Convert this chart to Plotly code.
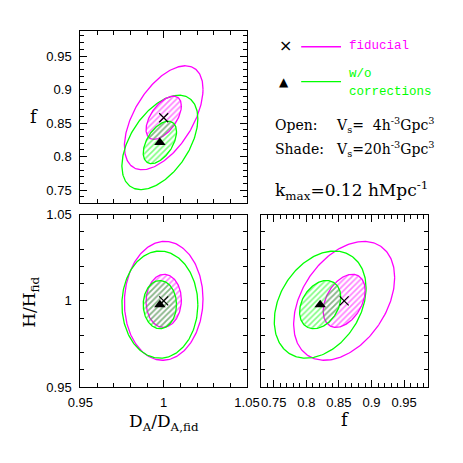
import numpy as np
import plotly.graph_objects as go

# Parameters: D_A/D_A,fid, H/H_fid, f
PARAMS = ["DA", "H", "f"]

# Centres of the two models
CENTER_FID = [1.000, 1.000, 0.858]
CENTER_NOCORR = [0.9977, 0.9978, 0.8212]

# Half-widths of the plotted contours along each parameter
EXTENT_FID_OPEN = [0.0236, 0.0345, 0.0775]
EXTENT_FID_SHADE = [0.0106, 0.0154, 0.0322]
EXTENT_NOCORR_OPEN = [0.0228, 0.0311, 0.0704]
EXTENT_NOCORR_SHADE = [0.0100, 0.0140, 0.0316]

# Correlation coefficients for each parameter pair
CORR_PAIRS = [("DA", "f"), ("DA", "H"), ("f", "H")]
CORR_FID = [0.55, 0.03, 0.39]
CORR_NOCORR = [0.50, 0.00, 0.31]

MAGENTA = "#FF00FF"
GREEN = "#00FF00"
W = H = 463


def corr_of(corrs, a, b):
    for (p, q), r in zip(CORR_PAIRS, corrs):
        if {p, q} == {a, b}:
            return r
    return 0.0


def ellipse(center, extent, corrs, i, j, n=240):
    r = corr_of(corrs, PARAMS[i], PARAMS[j])
    t = np.linspace(0, 2 * np.pi, n)
    x = center[i] + extent[i] * np.cos(t)
    y = center[j] + extent[j] * (r * np.cos(t) + np.sqrt(1 - r**2) * np.sin(t))
    return x, y


def px(x):
    return x / W


def py(y):
    return 1 - y / H


fig = go.Figure()

# (xaxis, yaxis, x param, y param)
panels = [("x", "y", 0, 2), ("x2", "y2", 0, 1), ("x3", "y3", 2, 1)]

for xa, ya, i, j in panels:
    # open contours (Vs = 4)
    for center, extent, corrs, color in [
        (CENTER_FID, EXTENT_FID_OPEN, CORR_FID, MAGENTA),
        (CENTER_NOCORR, EXTENT_NOCORR_OPEN, CORR_NOCORR, GREEN),
    ]:
        x, y = ellipse(center, extent, corrs, i, j)
        fig.add_trace(
            go.Scatter(x=x, y=y, mode="lines", line=dict(color=color, width=1.3),
                       xaxis=xa, yaxis=ya, showlegend=False, hoverinfo="skip")
        )
    # shaded contours (Vs = 20)
    for center, extent, corrs, color in [
        (CENTER_FID, EXTENT_FID_SHADE, CORR_FID, MAGENTA),
        (CENTER_NOCORR, EXTENT_NOCORR_SHADE, CORR_NOCORR, GREEN),
    ]:
        x, y = ellipse(center, extent, corrs, i, j)
        fig.add_trace(
            go.Scatter(
                x=x, y=y, mode="lines", line=dict(color=color, width=1.3),
                fill="toself", fillcolor="rgba(0,0,0,0)",
                fillpattern=dict(shape="/", fgcolor=color, bgcolor="rgba(0,0,0,0)",
                                 size=4, solidity=0.4),
                xaxis=xa, yaxis=ya, showlegend=False, hoverinfo="skip",
            )
        )
    fig.add_trace(
        go.Scatter(x=[CENTER_FID[i]], y=[CENTER_FID[j]], mode="markers",
                   marker=dict(symbol="x-thin", size=9, line=dict(color="black", width=1.2)),
                   xaxis=xa, yaxis=ya, showlegend=False, hoverinfo="skip")
    )
    fig.add_trace(
        go.Scatter(x=[CENTER_NOCORR[i]], y=[CENTER_NOCORR[j]], mode="markers",
                   marker=dict(symbol="triangle-up", size=10, color="black"),
                   xaxis=xa, yaxis=ya, showlegend=False, hoverinfo="skip")
    )

tickfont = dict(family="Liberation Sans, Arial", size=13, color="black")
axis = dict(
    showline=True, linecolor="black", linewidth=1, mirror="allticks",
    ticks="inside", ticklen=7, tickwidth=1, tickcolor="black",
    showgrid=False, zeroline=False, dtick=0.05,
    minor=dict(ticks="inside", ticklen=4, tickwidth=1, tickcolor="black",
               dtick=0.01, showgrid=False),
    tickfont=tickfont, fixedrange=True,
)
rng_da = [0.9499, 1.0501]
rng_h = [0.9499, 1.0501]
rng_f = [0.731, 0.987]

dom_left = [px(72), px(248)]
dom_right = [px(263), px(439)]
dom_top = [py(202), py(25)]
dom_bot = [py(392), py(214)]

fig.update_layout(
    width=W, height=H,
    margin=dict(l=0, r=0, t=0, b=0),
    paper_bgcolor="white", plot_bgcolor="white",
    xaxis=dict(axis, domain=dom_left, anchor="y", range=rng_da, tick0=0.95,
               showticklabels=False),
    yaxis=dict(axis, domain=dom_top, anchor="x", range=rng_f, tick0=0.75,
               ticklabelstandoff=5),
    xaxis2=dict(axis, domain=dom_left, anchor="y2", range=rng_da, tick0=0.95,
                ticklabelstandoff=3),
    yaxis2=dict(axis, domain=dom_bot, anchor="x2", range=rng_h, tick0=0.95,
                ticklabelstandoff=5),
    xaxis3=dict(axis, domain=dom_right, anchor="y3", range=rng_f, tick0=0.75,
                ticklabelstandoff=3),
    yaxis3=dict(axis, domain=dom_bot, anchor="x3", range=rng_h, tick0=0.95,
                showticklabels=False),
    showlegend=False,
)

serif = "DejaVu Serif"
mono = "Liberation Mono"


def note(text, x, y, size=14, family=serif, color="black", xanchor="left", angle=0):
    fig.add_annotation(
        text=text, x=px(x), y=py(y), xref="paper", yref="paper",
        xanchor=xanchor, yanchor="middle", showarrow=False, textangle=angle,
        font=dict(family=family, size=size, color=color),
    )


# axis titles
note("f", 23, 113, size=18, xanchor="center")
note("H/H<sub>fid</sub>", 20, 304, size=17, xanchor="center", angle=-90)
note("D<sub>A</sub>/D<sub>A,fid</sub>", 160, 428, size=17, xanchor="center")
note("f", 351, 425, size=18, xanchor="center")

# legend
note("×", 288, 40, size=16, family="DejaVu Sans", xanchor="center")
note("▲", 287, 77, size=12, family="DejaVu Sans", xanchor="center")
for y0, color in [(41, MAGENTA), (77, GREEN)]:
    fig.add_shape(type="line", xref="paper", yref="paper",
                  x0=px(305), x1=px(347), y0=py(y0), y1=py(y0),
                  line=dict(color=color, width=1.3))
note("fiducial", 353, 40, size=12.5, family=mono, color=MAGENTA)
note("w/o", 353, 69, size=12.5, family=mono, color=GREEN)
note("corrections", 353, 88, size=12.5, family=mono, color=GREEN)

note("Open:", 275, 122)
note("V<sub>s</sub>=\u20074h<sup>-3</sup>Gpc<sup>3</sup>", 340, 122)
note("Shade:", 275, 146)
note("V<sub>s</sub>=20h<sup>-3</sup>Gpc<sup>3</sup>", 340, 146)
note("k<sub>max</sub>=0.12 hMpc<sup>-1</sup>", 275, 189, size=17)

# the page's default body margin would shift the figure
fig.write_html(
    "out.html",
    config={"displayModeBar": False},
    post_script="document.body.style.margin = '0';",
)
